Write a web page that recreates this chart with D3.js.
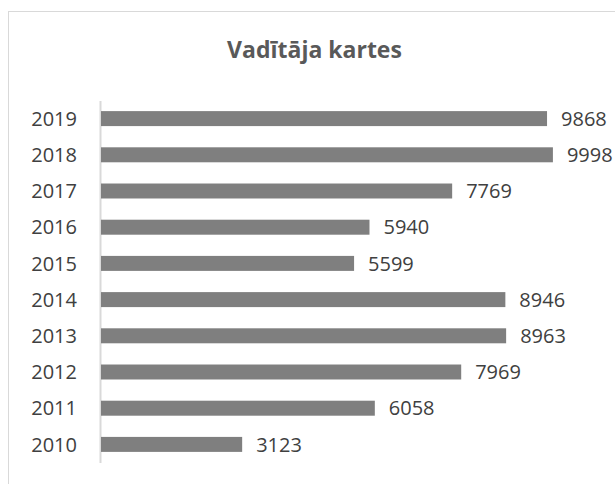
<!DOCTYPE html>
<html>
<head>
<meta charset="utf-8">
<script src="https://cdn.jsdelivr.net/npm/d3@7"></script>
<style>
  body { margin: 0; background: #fff; }
  text { font-family: "Open Sans", "Noto Sans", sans-serif; }
</style>
</head>
<body>
<div class="chart"></div>
<script>
// data
var years = ['2019', '2018', '2017', '2016', '2015', '2014', '2013', '2012', '2011', '2010'];
var counts = [9868, 9998, 7769, 5940, 5599, 8946, 8963, 7969, 6058, 3123];
var title = 'Vadītāja kartes';

var width = 615;
var height = 484;

var svg = d3.select('.chart')
            .append('svg')
            .attr('width', width)
            .attr('height', height);

// chart frame (runs off the right and bottom edge)
svg.append('rect')
   .attr('x', 8.5)
   .attr('y', 11.5)
   .attr('width', 800)
   .attr('height', 800)
   .style('fill', 'none')
   .style('stroke', '#d9d9d9');

svg.append('text')
   .attr('x', 314.5)
   .attr('y', 58)
   .attr('text-anchor', 'middle')
   .style('font-size', '23px')
   .style('font-weight', 'bold')
   .style('fill', '#595959')
   .text(title);

var x = d3.scaleLinear()
          .domain([0, 10000])
          .range([101, 553]);

var y = d3.scaleBand()
          .domain(years)
          .range([100.5, 462.5])
          .paddingInner(0.586)
          .paddingOuter(0.293);

// category axis
var yAxis = d3.axisLeft(y).tickSize(0).tickPadding(23);
var gy = svg.append('g')
            .attr('transform', 'translate(100,0)')
            .call(yAxis);
gy.select('.domain').style('stroke', '#d9d9d9').style('stroke-width', 2);
gy.selectAll('text')
  .style('font-size', '20px')
  .style('fill', '#404040')
  .attr('dy', '0.36em');

var rows = years.map(function(d, i) { return { year: d, value: counts[i] }; });

svg.selectAll('rect.bar')
   .data(rows)
   .enter()
   .append('rect')
   .attr('class', 'bar')
   .attr('x', x(0))
   .attr('y', function(d) { return y(d.year); })
   .attr('width', function(d) { return x(d.value) - x(0); })
   .attr('height', y.bandwidth())
   .style('fill', '#7f7f7f');

svg.selectAll('text.val')
   .data(rows)
   .enter()
   .append('text')
   .attr('class', 'val')
   .attr('x', function(d) { return x(d.value) + 14; })
   .attr('y', function(d) { return y(d.year) + y.bandwidth() / 2; })
   .attr('dy', '0.36em')
   .style('font-size', '20px')
   .style('fill', '#404040')
   .text(function(d) { return d.value; });
</script>
</body>
</html>
